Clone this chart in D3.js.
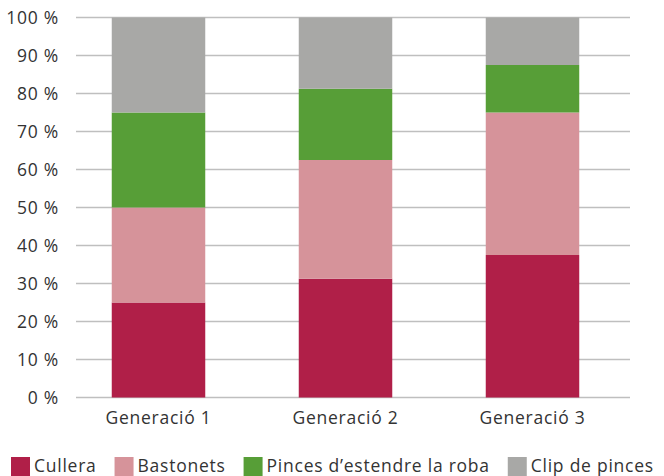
<!DOCTYPE html>
<html>
<head>
<meta charset="utf-8">
<script src="https://cdn.jsdelivr.net/npm/d3@7"></script>
<style>
  body { margin: 0; background: #fff; }
  svg { display: block; font-family: "Open Sans", Lato, sans-serif; letter-spacing: 0.75px; }
</style>
</head>
<body>
<script>
const categories = ["Generació 1", "Generació 2", "Generació 3"];
const seriesNames = ["Cullera", "Bastonets", "Pinces d\u2019estendre la roba", "Clip de pinces"];
const cullera = [25, 31.25, 37.5];
const bastonets = [25, 31.25, 37.5];
const pinces = [25, 18.75, 12.5];
const clip = [25, 18.75, 12.5];
const yTicks = [0, 10, 20, 30, 40, 50, 60, 70, 80, 90, 100];
const colors = ["#b01f48", "#d6939a", "#579e37", "#a8a8a6"];

const width = 664, height = 476;
const fs = 17.5;

const svg = d3.select("body")
  .append("svg")
  .attr("width", width)
  .attr("height", height);

const rows = categories.map((c, i) => ({
  cat: c,
  "Cullera": cullera[i],
  "Bastonets": bastonets[i],
  [seriesNames[2]]: pinces[i],
  "Clip de pinces": clip[i],
}));

const stacked = d3.stack().keys(seriesNames)(rows);

const x = d3.scaleBand()
  .domain(categories)
  .range([65, 626])
  .paddingInner(0.5)
  .paddingOuter(0.25);

const y = d3.scaleLinear()
  .domain([0, 100])
  .range([397.5, 17.5]);

// gridlines
svg.append("g")
  .selectAll("line")
  .data(yTicks)
  .join("line")
  .attr("x1", 76)
  .attr("x2", 630)
  .attr("y1", d => y(d))
  .attr("y2", d => y(d))
  .attr("stroke", "#bfbfbf")
  .attr("stroke-width", 1.3);

// y labels
svg.append("g")
  .selectAll("text")
  .data(yTicks)
  .join("text")
  .attr("x", 59)
  .attr("y", d => y(d))
  .attr("dy", "0.35em")
  .attr("text-anchor", "end")
  .attr("font-size", fs)
  .attr("fill", "#333")
  .text(d => d + " %");

// bars
svg.append("g")
  .selectAll("g")
  .data(stacked)
  .join("g")
  .attr("fill", (d, i) => colors[i])
  .selectAll("rect")
  .data(d => d)
  .join("rect")
  .attr("x", d => x(d.data.cat))
  .attr("width", x.bandwidth())
  .attr("y", d => y(d[1]))
  .attr("height", d => y(d[0]) - y(d[1]));

// x labels
svg.append("g")
  .selectAll("text")
  .data(categories)
  .join("text")
  .attr("x", d => x(d) + x.bandwidth() / 2)
  .attr("y", 418)
  .attr("dy", "0.35em")
  .attr("text-anchor", "middle")
  .attr("font-size", fs)
  .attr("fill", "#333")
  .text(d => d);

// legend
const legend = svg.append("g");
let lx = 11;
seriesNames.forEach((name, i) => {
  legend.append("rect")
    .attr("x", lx)
    .attr("y", 457)
    .attr("width", 19)
    .attr("height", 20)
    .attr("fill", colors[i]);
  const t = legend.append("text")
    .attr("x", lx + 23)
    .attr("y", 466)
    .attr("dy", "0.35em")
    .attr("font-size", fs)
    .attr("fill", "#333")
    .text(name);
  lx += 23 + t.node().getComputedTextLength() + 18;
});
</script>
</body>
</html>
